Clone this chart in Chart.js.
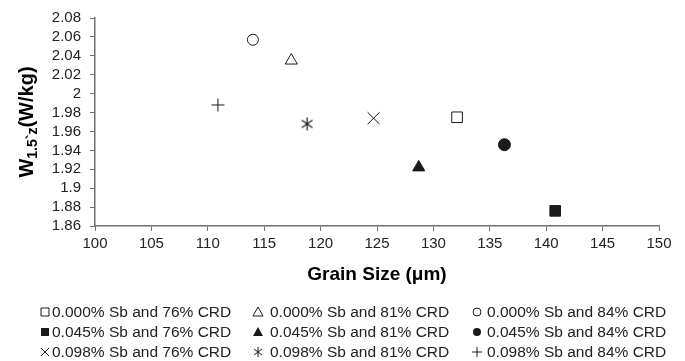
<!DOCTYPE html>
<html>
<head>
<meta charset="utf-8">
<script src="https://cdn.jsdelivr.net/npm/chart.js@4/dist/chart.umd.min.js"></script>
<style>
  html, body { margin: 0; padding: 0; background: #fff; }
  #wrap { width: 685px; height: 361px; }
</style>
</head>
<body>
<div id="wrap"><canvas id="grainChart" width="685" height="361"></canvas></div>
<script>
// Series: one point each
const seriesLabels = [
  "0.000% Sb and 76% CRD", "0.000% Sb and 81% CRD", "0.000% Sb and 84% CRD",
  "0.045% Sb and 76% CRD", "0.045% Sb and 81% CRD", "0.045% Sb and 84% CRD",
  "0.098% Sb and 76% CRD", "0.098% Sb and 81% CRD", "0.098% Sb and 84% CRD"
];
const grainSize = [132.1, 117.4, 114.0, 140.8, 128.7, 136.3, 124.7, 118.8, 110.9];
const coreLoss = [1.975, 2.035, 2.057, 1.876, 1.922, 1.946, 1.974, 1.968, 1.988];

const xTicks = [100, 105, 110, 115, 120, 125, 130, 135, 140, 145, 150];
const yTicks = [1.86, 1.88, 1.9, 1.92, 1.94, 1.96, 1.98, 2, 2.02, 2.04, 2.06, 2.08];

const INK = "#1a1a1a";
const AXIS = "#707070";
const FONT = "'Liberation Sans', Arial, sans-serif";

// asterisk marker: vertical stroke plus an X
function makeAsterisk(size) {
  const c = document.createElement("canvas");
  c.width = size; c.height = size;
  const g = c.getContext("2d");
  const m = size / 2, r = size / 2 - 1;
  g.strokeStyle = INK;
  g.lineWidth = 1.2;
  g.beginPath();
  [90, 35, 145].forEach((deg) => {
    const a = deg * Math.PI / 180;
    g.moveTo(m - r * Math.cos(a), m - r * Math.sin(a));
    g.lineTo(m + r * Math.cos(a), m + r * Math.sin(a));
  });
  g.stroke();
  return c;
}

const markers = [
  { style: "rect", r: 7.5, fill: false },
  { style: "triangle", r: 7, fill: false },
  { style: "circle", r: 5.5, fill: false },
  { style: "rect", r: 7.5, fill: true },
  { style: "triangle", r: 7, fill: true },
  { style: "circle", r: 6, fill: true },
  { style: "crossRot", r: 8.5, fill: false },
  { style: makeAsterisk(15), r: 7, fill: false },
  { style: "cross", r: 6.5, fill: false }
];
const legendKinds = ["sqO", "triO", "cirO", "sqF", "triF", "cirF", "x", "ast", "plus"];

const datasets = seriesLabels.map((label, i) => ({
  label: label,
  data: [{ x: grainSize[i], y: coreLoss[i] }],
  pointStyle: markers[i].style,
  pointRadius: markers[i].r,
  pointHoverRadius: markers[i].r,
  pointBorderWidth: 1,
  pointBorderColor: INK,
  pointBackgroundColor: markers[i].fill ? INK : "#fff",
  showLine: false
}));

function legendMarker(ctx, kind, x, y) {
  ctx.save();
  ctx.strokeStyle = INK;
  ctx.fillStyle = INK;
  ctx.lineWidth = 1;
  ctx.beginPath();
  if (kind === "sqO" || kind === "sqF") {
    ctx.rect(x - 4, y - 4, 8, 8);
    kind === "sqF" ? ctx.fill() : ctx.stroke();
  } else if (kind === "triO" || kind === "triF") {
    ctx.moveTo(x, y - 5); ctx.lineTo(x + 5, y + 4); ctx.lineTo(x - 5, y + 4); ctx.closePath();
    kind === "triF" ? ctx.fill() : ctx.stroke();
  } else if (kind === "cirO" || kind === "cirF") {
    ctx.arc(x, y, 4, 0, Math.PI * 2);
    kind === "cirF" ? ctx.fill() : ctx.stroke();
  } else if (kind === "x") {
    ctx.moveTo(x - 4, y - 4); ctx.lineTo(x + 4, y + 4);
    ctx.moveTo(x + 4, y - 4); ctx.lineTo(x - 4, y + 4);
    ctx.stroke();
  } else if (kind === "ast") {
    ctx.moveTo(x, y - 5); ctx.lineTo(x, y + 5);
    ctx.moveTo(x - 4, y - 3); ctx.lineTo(x + 4, y + 3);
    ctx.moveTo(x + 4, y - 3); ctx.lineTo(x - 4, y + 3);
    ctx.stroke();
  } else {
    ctx.moveTo(x - 5, y); ctx.lineTo(x + 5, y);
    ctx.moveTo(x, y - 5); ctx.lineTo(x, y + 5);
    ctx.stroke();
  }
  ctx.restore();
}

// custom legend grid + y title with subscript
const extrasPlugin = {
  id: "extras",
  afterDraw(chart) {
    const ctx = chart.ctx;
    const colMarker = [45, 258, 477];
    const colText = [52, 270, 487];
    const rowY = [312, 332, 352];
    ctx.save();
    ctx.font = "15.5px " + FONT;
    ctx.fillStyle = "#222";
    ctx.textBaseline = "middle";
    ctx.textAlign = "left";
    seriesLabels.forEach((label, i) => {
      const col = i % 3, row = Math.floor(i / 3);
      legendMarker(ctx, legendKinds[i], colMarker[col], rowY[row]);
      ctx.fillText(label, colText[col], rowY[row] + 1);
    });

    // y axis title
    const area = chart.chartArea;
    const cy = (area.top + area.bottom) / 2;
    const big = "bold 20px " + FONT;
    const small = "bold 14px " + FONT;
    ctx.font = big; const wW = ctx.measureText("W").width;
    const wP = ctx.measureText("(W/kg)").width;
    ctx.font = small; const wS = ctx.measureText("1.5`z").width;
    const total = wW + wS + wP;
    ctx.translate(27, cy);
    ctx.rotate(-Math.PI / 2);
    ctx.fillStyle = "#000";
    ctx.textBaseline = "alphabetic";
    let px = -total / 2;
    ctx.font = big; ctx.fillText("W", px, 6); px += wW;
    ctx.font = small; ctx.fillText("1.5`z", px, 10); px += wS;
    ctx.font = big; ctx.fillText("(W/kg)", px, 6);
    ctx.restore();
  }
};

new Chart(document.getElementById("grainChart").getContext("2d"), {
  type: "scatter",
  data: { datasets: datasets },
  plugins: [extrasPlugin],
  options: {
    responsive: false,
    animation: false,
    events: [],
    layout: { padding: { left: 0, right: 26, top: 15, bottom: 75 } },
    plugins: {
      legend: { display: false },
      tooltip: { enabled: false }
    },
    scales: {
      x: {
        type: "linear",
        min: xTicks[0],
        max: xTicks[xTicks.length - 1],
        afterBuildTicks: (s) => { s.ticks = xTicks.map((v) => ({ value: v })); },
        afterFit: (s) => { s.height = 60; },
        ticks: { color: "#222", font: { size: 15, family: FONT }, padding: 4, maxRotation: 0, autoSkip: false },
        grid: { drawOnChartArea: false, color: AXIS, tickLength: 5, tickColor: AXIS },
        border: { color: AXIS, width: 1.5 },
        title: {
          display: true,
          text: "Grain Size (μm)",
          color: "#000",
          font: { size: 19, weight: "bold", family: FONT },
          padding: { top: 0, bottom: 0 }
        }
      },
      y: {
        type: "linear",
        min: yTicks[0],
        max: yTicks[yTicks.length - 1],
        afterBuildTicks: (s) => { s.ticks = yTicks.map((v) => ({ value: v })); },
        afterFit: (s) => { s.width = 95; },
        ticks: {
          color: "#222",
          font: { size: 15, family: FONT },
          padding: 9,
          autoSkip: false,
          callback: (v) => String(+v.toFixed(2))
        },
        grid: { drawOnChartArea: false, color: AXIS, tickLength: 5, tickColor: AXIS },
        border: { color: AXIS, width: 1.5 }
      }
    }
  }
});
</script>
</body>
</html>
